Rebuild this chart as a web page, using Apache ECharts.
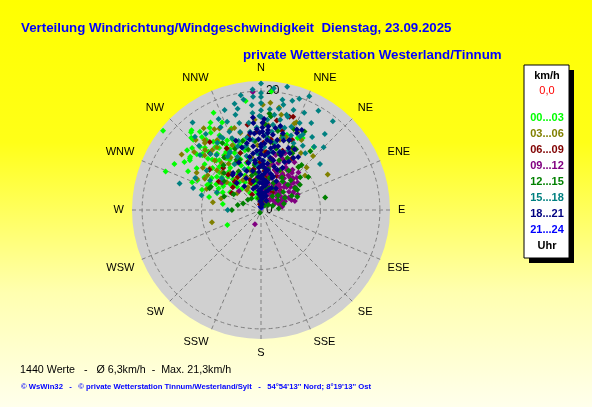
<!DOCTYPE html>
<html>
<head>
<meta charset="utf-8">
<script src="https://cdn.jsdelivr.net/npm/echarts@6/dist/echarts.min.js"></script>
<style>
html,body{margin:0;padding:0;}
#main{width:592px;height:407px;background:linear-gradient(to bottom,#ffff00 0%,#ffff18 35%,#ffffb0 72%,#ffffec 100%);}
</style>
</head>
<body>
<div id="main"></div>
<script>
// Windrose 23.09.2025 - je Punkt [km/h, Richtung in Grad]
var dirLabels = ['N','NNE','NE','ENE','E','ESE','SE','SSE','S','SSW','SW','WSW','W','WNW','NW','NNW'];
var timeLabels = ['00...03','03...06','06...09','09...12','12...15','15...18','18...21','21...24'];
var timeColors = ['#00ff00','#808000','#800000','#800080','#008000','#008080','#000080','#0000ff'];

var p0003 = [[21.2,309],[17.8,319],[16.7,322],[16.3,328],[15.5,327],[16.4,316],[15.8,321],[14.4,331],[13.5,328],[12.4,332],
  [14.8,316],[14.9,307],[14.6,305],[13.5,313],[17.3,292],[11.8,316],[8.8,324],[9.3,307],[7.6,307],[11.8,295],
  [10.0,295],[7.9,291],[7.1,295],[7.9,315],[7.1,327],[8.1,355],[13.8,40],[13.4,19],[8.3,343],[10.2,340],
  [11.9,337],[5.6,314],[3.4,327],[12.5,292],[6.5,279],[6.2,246],[14.3,311],[13.6,314],[14.8,306],[16.9,316],
  [17.6,318],[20.0,5],[18.5,352],[13.6,27],[14.0,30],[12.0,322],[11.2,318],[10.5,326],[9.6,318],[9.0,330],
  [8.4,320],[10.8,311],[9.9,303],[6.8,310],[5.9,322],[6.4,335],[4.8,318],[11.5,333],[12.8,338],[10.4,345],
  [9.2,338],[7.3,343],[5.2,340],[13.1,324],[12.2,309],[8.7,300],[6.0,300],[7.8,352],[6.0,355],[4.6,350],
  [3.1,345],[9.5,357],[2.2,340],[15.0,322],[14.1,318],[13.2,318],[12.6,326],[11.4,329],[10.9,320],[10.1,316],
  [9.4,312],[8.6,310],[12.9,303],[13.9,298],[11.0,300],[9.7,298],[8.0,297],[15.6,312],[16.0,309],[14.0,325],
  [13.0,334],[11.6,342],[10.6,335],[9.9,328],[8.2,336],[7.0,318],[6.2,312],[5.4,330],[4.2,345],[6.9,350],
  [8.9,347],[12.1,346],[14.6,340],[16.1,336],[17.0,330],[18.2,334],[15.2,302],[16.5,298],[10.5,289],[9.0,284],
  [7.5,302],[12.4,314],[11.1,326]];
var p0306 = [[18.1,5],[15.9,22],[15.4,333],[16.1,317],[15.1,321],[14.4,339],[14.5,342],[12.5,300],[13.0,321],[11.4,317],
  [10.7,303],[10.3,320],[11.1,309],[10.0,312],[11.5,8],[12.2,15],[11.2,26],[12.7,62],[10.8,299],[8.5,256],
  [9.6,41],[12.6,44],[15.2,356],[13.8,317],[12.9,325],[10.8,326],[8.9,333],[8.1,320],[5.9,329],[8.3,304],
  [4.9,305],[8.2,279],[17.7,1],[17.5,10],[15.6,21],[14.5,25],[13.0,19],[12.7,16],[4.9,338],[4.1,325],
  [6.9,345],[5.5,8],[7.7,12],[3.9,20],[9.0,350],[4.4,330],[16.8,325],[14.7,320],[13.9,328],[13.2,314],
  [12.1,306],[11.8,331],[11.9,336],[10.2,330],[9.5,325],[9.1,314],[7.4,309],[6.7,321],[6.1,336],[13.4,345],
  [12.6,350],[10.9,357],[9.8,3],[8.6,10],[14.3,5],[16.4,12],[13.6,30],[11.7,35],[10.5,47],[9.4,52],
  [7.2,30],[5.9,18],[14.9,311],[16.3,305],[12.0,296],[9.8,291],[7.0,286],[15.7,330]];
var p0609 = [[14.5,351],[14.3,323],[16.4,17],[10.1,31],[11.0,308],[6.1,318],[8.1,317],[5.4,340],[6.1,309],[2.5,356],
  [7.3,46],[4.7,12],[7.1,19],[9.2,24],[6.5,317],[16.6,19],[1.2,5],[1.8,15],[2.8,8],[3.4,25],
  [2.0,350],[3.9,345],[4.4,5],[1.5,30],[2.3,40],[3.2,355],[4.1,18],[5.0,30],[3.6,35],[2.6,20],
  [1.0,350],[5.8,10],[6.3,25],[5.2,350],[4.8,340],[3.0,330],[9.5,318],[7.5,330],[8.8,12],[10.6,20],
  [9.8,5],[7.9,358],[11.3,2],[12.5,350],[13.2,357],[12.0,8],[13.8,15],[12.9,24],[11.7,28],[10.2,340],
  [11.9,331],[12.8,318],[9.0,333],[8.4,345],[7.0,350],[6.6,5],[5.5,15],[6.9,32],[8.2,38],[4.6,45],
  [3.8,50],[2.9,15],[1.7,355],[0.9,20],[6.8,325],[5.7,300],[8.6,304],[15.3,10],[14.6,2]];
var p0912 = [[19.9,356],[8.0,33],[8.1,40],[6.4,30],[4.4,27],[4.4,47],[5.8,48],[6.9,49],[6.1,62],[3.9,64],
  [3.3,75],[2.6,50],[3.1,22],[5.9,18],[7.2,19],[7.4,9],[8.1,48],[8.4,20],[7.3,42],[6.9,56],
  [8.7,13],[9.4,22],[10.4,23],[7.4,38],[7.1,50],[5.0,40],[4.6,61],[2.2,42],[2.9,13],[3.1,68],
  [2.6,203],[3.6,71],[3.6,81],[8.0,305],[4.9,311],[5.3,35],[6.0,42],[4.2,37],[3.5,52],[5.6,57],
  [6.6,36],[7.8,27],[4.9,24],[3.8,44],[2.8,58],[6.3,52],[5.1,66],[4.0,55],[7.0,31],[8.6,38],
  [9.0,28],[2.0,25],[1.5,45],[4.5,15],[6.8,23],[9.8,35],[8.9,45],[7.7,53],[6.5,60],[5.4,72],
  [4.3,70],[3.0,35],[2.5,65],[1.0,30],[7.9,15],[6.2,10],[5.2,27],[4.7,33],[5.5,45],[7.6,45],
  [8.3,30],[9.6,15],[3.4,8],[6.7,67],[5.9,75]];
var p1215 = [[11.0,79],[4.0,282],[9.3,295],[6.9,59],[9.4,293],[15.1,29],[15.8,6],[11.9,27],[10.9,29],[9.6,41],
  [9.8,27],[10.4,348],[9.4,334],[5.1,352],[3.8,49],[4.5,63],[1.7,5],[1.5,54],[3.3,60],[4.8,51],
  [7.0,61],[6.5,33],[7.8,57],[6.8,57],[6.5,70],[0.5,200],[2.8,308],[9.2,337],[6.3,351],[12.3,5],
  [11.5,10],[13.1,16],[12.6,22],[8.5,12],[7.2,3],[5.6,15],[4.2,30],[3.0,40],[8.1,35],[9.9,18],
  [6.0,345],[7.5,330],[10.8,325],[8.8,315],[5.3,300],[2.5,320],[11.8,30],[13.6,12],[14.4,3],[10.2,42],
  [3.6,15],[2.1,70],[6.2,47],[12.0,345],[11.2,337],[13.0,330],[9.8,320],[7.9,308],[6.6,290],[4.9,270],
  [3.2,290],[2.0,350],[1.0,40],[3.9,20],[5.0,25],[7.4,25],[8.9,20],[10.6,14],[11.6,355],[9.5,358],
  [7.0,10],[4.8,5],[6.0,37],[7.1,45],[8.6,50],[9.7,55],[5.7,65],[4.0,75],[3.0,85],[14.7,22],
  [16.3,5],[12.9,40],[7.6,352]];
var p1518 = [[21.3,0],[21.2,12],[20.8,23],[18.9,11],[19.1,356],[18.8,351],[19.3,30],[19.2,39],[17.7,18],[17.3,10],
  [19.7,0],[18.0,0],[16.8,0],[15.7,0],[17.7,355],[16.4,355],[17.5,347],[16.6,345],[15.9,339],[15.1,346],
  [18.7,322],[14.4,288],[12.0,288],[5.6,270],[12.6,52],[16.9,30],[14.5,29],[16.3,16],[14.3,13],[14.5,8],
  [15.2,4],[13.3,8],[14.4,16],[13.6,345],[12.4,349],[11.9,353],[13.7,332],[13.5,327],[11.1,332],[9.8,336],
  [10.9,344],[11.3,306],[8.5,309],[12.7,17],[12.5,26],[8.6,348],[9.6,356],[10.3,18],[15.8,324],[14.1,331],
  [11.9,321],[10.9,331],[19.0,0],[19.1,16],[18.1,12],[13.0,338],[12.2,342],[14.8,352],[13.9,357],[12.8,4],
  [11.6,12],[13.5,22],[14.9,20],[15.5,12],[10.6,3],[9.2,8],[11.4,340],[8.9,330],[7.4,338],[12.9,33],
  [15.0,35],[16.0,24],[17.0,5],[16.2,8],[14.2,338],[15.5,334],[16.9,335],[17.9,340],[18.4,346],[19.6,350],
  [20.3,356],[20.6,6],[19.8,19],[17.9,24],[16.7,40],[14.9,45],[13.9,40],[12.1,38],[11.0,25],[10.0,10],
  [8.3,3],[7.6,355],[9.4,345],[10.6,328],[12.7,318],[13.8,312],[15.0,316],[16.6,318],[9.9,300],[8.0,292],
  [12.3,296],[10.3,284],[6.9,330],[13.3,352],[15.8,359],[16.6,15],[14.0,28],[12.0,5],[11.1,347]];
var p1821 = [[14.7,1],[13.5,5],[13.2,1],[14.8,24],[15.1,27],[10.2,18],[10.3,32],[10.9,35],[13.1,352],[14.7,355],
  [11.8,5],[10.8,353],[11.0,0],[7.6,321],[13.0,359],[13.0,5],[10.1,0],[9.7,7],[8.0,353],[7.1,5],
  [5.6,355],[3.9,5],[2.2,0],[0.5,0],[5.7,19],[9.1,348],[11.5,348],[10.4,21],[11.4,24],[12.1,13],
  [14.1,5],[14.3,25],[6.1,318],[10.7,0],[7.8,323],[1.0,10],[1.5,355],[2.0,8],[2.7,352],[3.0,2],
  [3.5,358],[4.0,350],[4.5,3],[5.0,9],[5.3,0],[6.0,4],[6.4,357],[6.8,10],[7.4,0],[7.9,8],
  [8.3,2],[8.7,358],[9.2,4],[9.6,352],[10.5,9],[11.2,3],[11.9,358],[12.5,2],[12.8,9],[13.6,357],
  [3.2,15],[4.8,13],[6.3,15],[8.6,14],[9.9,12],[6.7,348],[8.2,345],[5.0,345],[2.5,20],[1.8,30],
  [4.1,25],[7.3,22],[12.3,18],[15.3,2],[14.0,10],[9.0,26],[11.7,29],[7.0,340],[3.8,340],[13.9,1],
  [12.9,355],[12.0,351],[11.6,8],[10.9,12],[10.0,356],[9.4,0],[8.9,10],[8.4,353],[7.7,3],[7.1,357],
  [6.5,7],[5.8,1],[5.2,5],[4.6,357],[4.2,10],[3.3,354],[2.8,6],[2.3,12],[1.3,0],[6.0,20],
  [7.6,17],[8.0,27],[9.4,30],[10.7,27],[12.7,22],[13.4,16],[14.5,13],[11.1,15],[9.8,20],[5.5,28],
  [4.4,35],[3.6,20],[6.9,330],[8.8,335],[5.9,335],[4.9,325],[11.0,343],[12.4,340],[15.6,355]];
var p2124 = [[0.4,10],[0.8,20],[0.6,350]];

var groups = [p0003, p0306, p0609, p0912, p1215, p1518, p1821, p2124];

var FONT = "Arial, 'Liberation Sans', sans-serif";
var CX = 261, CY = 210, R = 129;
var chart = echarts.init(document.getElementById('main'));

// 21-24 zuerst, dann die Tagesfolge
var drawOrder = [7, 0, 1, 2, 3, 4, 5, 6];
var series = drawOrder.map(function(i){
  return {
    type: 'scatter'
    ,coordinateSystem: 'polar'
    ,symbol: 'diamond'
    ,symbolSize: 6
    ,silent: true
    ,itemStyle: {color: timeColors[i], opacity: 1}
    ,data: groups[i]
  };
});

// grauer Kreis hinter den Gitterlinien
var graphics = [
  {type: 'circle', z: -10, shape: {cx: CX, cy: CY, r: R}, style: {fill: '#d0d0d0'}}
];

// Legende rechts (Kasten mit Schatten)
graphics.push(
  {type: 'rect', shape: {x: 529, y: 70, width: 45, height: 193}, style: {fill: '#000'}}
  ,{type: 'rect', shape: {x: 524, y: 65, width: 45, height: 193}, style: {fill: '#fff', stroke: '#000', lineWidth: 1}}
  ,{type: 'text', x: 547, y: 76, style: {text: 'km/h', fill: '#000', font: 'bold 11px ' + FONT, textAlign: 'center', textVerticalAlign: 'middle'}}
  ,{type: 'text', x: 547, y: 91, style: {text: '0,0', fill: '#ff0000', font: '11px ' + FONT, textAlign: 'center', textVerticalAlign: 'middle'}}
  ,{type: 'text', x: 547, y: 246, style: {text: 'Uhr', fill: '#000', font: 'bold 11px ' + FONT, textAlign: 'center', textVerticalAlign: 'middle'}}
);
timeLabels.forEach(function(t, i){
  graphics.push({type: 'text', x: 547, y: 118 + i * 16, style: {text: t, fill: timeColors[i], font: 'bold 11px ' + FONT, textAlign: 'center', textVerticalAlign: 'middle'}});
});

// Titel und Fusszeilen
graphics.push(
  {type: 'text', x: 21, y: 28, style: {text: 'Verteilung Windrichtung/Windgeschwindigkeit  Dienstag, 23.09.2025', fill: '#0000ff', font: 'bold 13.3px ' + FONT, textVerticalAlign: 'middle'}}
  ,{type: 'text', x: 243, y: 55, style: {text: 'private Wetterstation Westerland/Tinnum', fill: '#0000ff', font: 'bold 13.3px ' + FONT, textVerticalAlign: 'middle'}}
  ,{type: 'text', x: 20, y: 370, style: {text: '1440 Werte   -   \u00d8 6,3km/h  -  Max. 21,3km/h', fill: '#000', font: '10.7px ' + FONT, textVerticalAlign: 'middle'}}
  ,{type: 'text', x: 21, y: 387, style: {text: '\u00a9 WsWin32   -   \u00a9 private Wetterstation Tinnum/Westerland/Sylt   -   54\u00b054\'13\'\' Nord; 8\u00b019\'13\'\' Ost', fill: '#0000ff', font: 'bold 7.7px ' + FONT, textVerticalAlign: 'middle'}}
);

chart.setOption({
  animation: false
  ,polar: {center: [CX, CY], radius: R}
  ,angleAxis: {
    type: 'value'
    ,min: 0
    ,max: 360
    ,interval: 22.5
    ,startAngle: 90
    ,clockwise: true
    ,axisLine: {show: false}
    ,axisTick: {show: false}
    ,axisLabel: {
      margin: 8
      ,color: '#000'
      ,fontSize: 11
      ,fontFamily: FONT
      ,formatter: function(v){ return dirLabels[Math.round(v / 22.5) % 16]; }
    }
    ,splitLine: {show: true, lineStyle: {color: '#808080', type: [4, 3], width: 1}}
  }
  ,radiusAxis: {
    min: 0
    ,max: 21.7
    ,interval: 10
    ,axisLine: {show: false}
    ,axisTick: {show: false}
    ,axisLabel: {
      color: '#000'
      ,fontSize: 12
      ,fontFamily: FONT
      ,align: 'left'
      ,margin: -5
      ,formatter: function(v){ return (v === 0 || v === 20) ? String(v) : ''; }
    }
    ,splitLine: {show: true, lineStyle: {color: ['#808080', '#808080', '#808080', 'rgba(0,0,0,0)'], type: [4, 3], width: 1}}
  }
  ,series: series
  ,graphic: graphics
});
</script>
</body>
</html>
